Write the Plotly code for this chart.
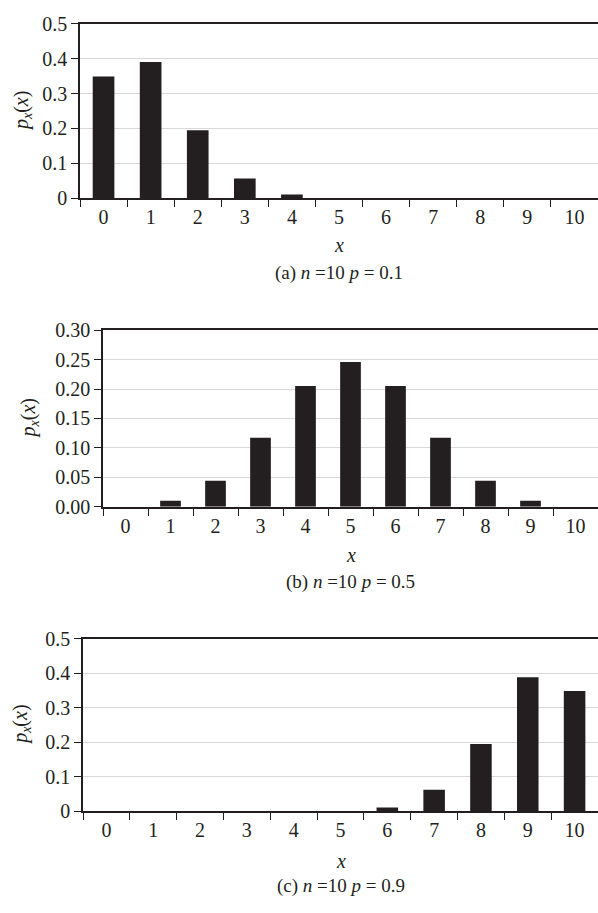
import plotly.graph_objects as go

x_vals = [str(i) for i in range(11)]
p_a = [0.349, 0.390, 0.195, 0.057, 0.011, 0.0, 0.0, 0.0, 0.0, 0.0, 0.0]
p_b = [0.0, 0.010, 0.044, 0.117, 0.205, 0.246, 0.205, 0.117, 0.044, 0.010, 0.0]
p_c = [0.0, 0.0, 0.0, 0.0, 0.0, 0.0, 0.011, 0.062, 0.195, 0.388, 0.348]
captions = ["(a) <i>n</i> =10 <i>p</i> = 0.1",
            "(b) <i>n</i> =10 <i>p</i> = 0.5",
            "(c) <i>n</i> =10 <i>p</i> = 0.9"]

W, H = 598, 913
FONT = "Liberation Serif, 'Times New Roman', serif"
INK = "#231f20"
FS = 20

# pixel geometry: (left, top, bottom, x-title y, caption y, y-title x)
panels = [(80, 13, 192, 240, 268, 22),
          (103, 327, 508, 557, 585, 29),
          (83, 643, 820, 871, 897, 22)]
yranges = [[0, 0.5], [0, 0.30], [0, 0.5]]
ydticks = [0.1, 0.05, 0.1]
yfmts = ["", ".2f", ""]
data = [p_a, p_b, p_c]

fig = go.Figure()
for i, (vals, (l, t, b, xty, cy, ytx)) in enumerate(zip(data, panels)):
    n = "" if i == 0 else str(i + 1)
    fig.add_trace(go.Bar(x=x_vals, y=vals, marker=dict(color=INK, line=dict(width=0)),
                         xaxis="x" + n, yaxis="y" + n, showlegend=False))
    xa = dict(domain=[l / W, 1.0], anchor="y" + n, type="category",
              tickson="boundaries", ticks="outside", ticklen=7, tickcolor=INK, tickwidth=1,
              showline=True, linecolor=INK, linewidth=1.5, mirror=True,
              showgrid=False, zeroline=False,
              tickfont=dict(family=FONT, size=FS, color=INK))
    ya = dict(domain=[1 - b / H, 1 - t / H], anchor="x" + n, range=yranges[i],
              dtick=ydticks[i], tickformat=yfmts[i], ticks="outside", ticklen=7,
              tickcolor=INK, tickwidth=1, showline=True, linecolor=INK, linewidth=1.5,
              showgrid=True, gridcolor="#d9d9d9", gridwidth=1, zeroline=False,
              tickfont=dict(family=FONT, size=FS, color=INK))
    fig.layout["xaxis" + n] = xa
    fig.layout["yaxis" + n] = ya
    fig.add_annotation(text="<i>x</i>", xref="paper", yref="paper",
                       x=(l + W) / 2 / W, y=1 - xty / H, showarrow=False,
                       xanchor="center", yanchor="middle",
                       font=dict(family=FONT, size=FS, color=INK))
    fig.add_annotation(text=captions[i], xref="paper", yref="paper",
                       x=(l + W) / 2 / W, y=1 - cy / H, showarrow=False,
                       xanchor="center", yanchor="middle",
                       font=dict(family=FONT, size=FS - 1, color=INK))
    fig.add_annotation(text="<i>p</i><sub><i>x</i></sub>(<i>x</i>)", xref="paper", yref="paper",
                       x=ytx / W, y=1 - (t + b) / 2 / H, showarrow=False, textangle=-90,
                       xanchor="center", yanchor="middle",
                       font=dict(family=FONT, size=FS, color=INK))

fig.update_layout(width=W, height=H, margin=dict(l=0, r=0, t=0, b=0),
                  plot_bgcolor="white", paper_bgcolor="white", bargap=0.54)
fig.write_html("out.html")
